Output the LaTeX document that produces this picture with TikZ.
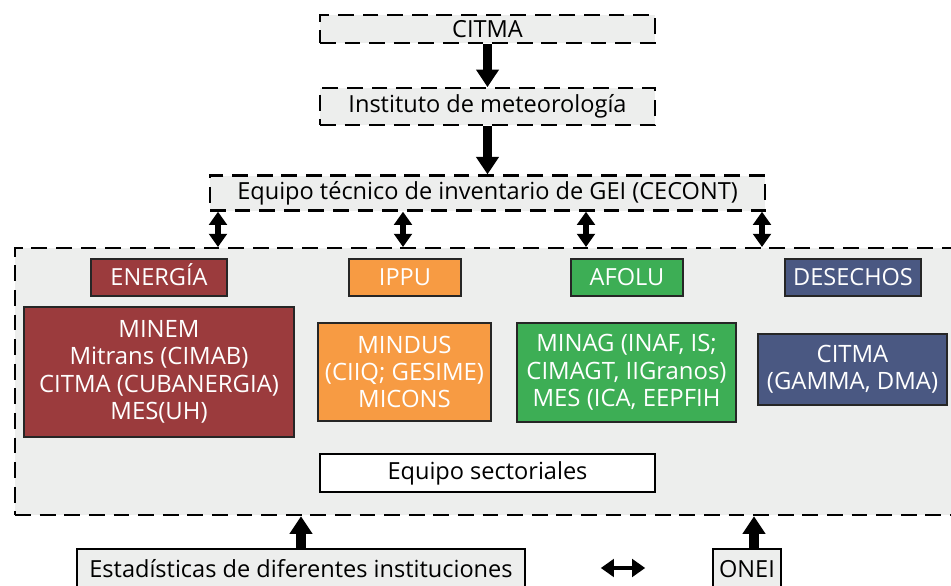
\documentclass[tikz,border=0pt]{standalone}
\usepackage{fontspec}
\setmainfont{Open Sans}
\usetikzlibrary{arrows.meta,positioning}

\definecolor{grisfondo}{RGB}{237,238,237}
\definecolor{rojoen}{RGB}{155,59,61}
\definecolor{naranjaip}{RGB}{247,155,67}
\definecolor{verdeaf}{RGB}{61,174,85}
\definecolor{azulde}{RGB}{74,88,130}

\tikzset{
	dashbox/.style={draw,dashed,dash pattern=on 9pt off 5pt,line width=1.3pt,fill=grisfondo,inner sep=0pt},
	plainbox/.style={draw,line width=0.9pt,fill=grisfondo,inner sep=0pt},
	sectorh/.style={draw=black!85,line width=0.9pt,text=white,inner sep=0pt,minimum height=0.74cm,text height=9.6pt,text depth=0pt},
	sectorc/.style={draw=black!85,line width=0.9pt,text=white,inner sep=0pt,align=center,font=\fontsize{13.6}{15.6}\selectfont},
	flecha/.style={line width=5.5pt,-{Triangle[width=12.5pt,length=10pt]}},
	dobleflecha/.style={line width=3.8pt,{Triangle[width=10pt,length=7.5pt]}-{Triangle[width=10pt,length=7.5pt]}}
}

\begin{document}
\begin{tikzpicture}[font=\fontsize{13.4}{16}\selectfont,node distance=1cm,align=center]
	\useasboundingbox (0,0) rectangle (19.02,11.72);
	\clip (0,0) rectangle (19.02,11.72);
	% cadena superior
	\node[dashbox,minimum width=6.7cm,minimum height=0.56cm] (citma) at (9.75,11.14) {CITMA};
	\node[dashbox,minimum width=6.7cm,minimum height=0.74cm] [below=0.86cm of citma] (inst) {Instituto de meteorología};
	\node[dashbox,minimum width=11.1cm,minimum height=0.7cm] [below=0.96cm of inst] (equipo) {Equipo técnico de inventario de GEI (CECONT)};
	% grupo de sectores
	\node[dashbox,anchor=north west,minimum width=19.3cm,minimum height=5.34cm] (grupo) at (0.28,6.78) {};
	\node[sectorh,fill=rojoen,minimum width=2.72cm] (energia_h) at (3.18,6.17) {ENERGÍA};
	\node[sectorh,fill=naranjaip,minimum width=2.24cm] (ippu_h) at (8.10,6.17) {IPPU};
	\node[sectorh,fill=verdeaf,minimum width=2.24cm] (afolu_h) at (12.54,6.17) {AFOLU};
	\node[sectorh,fill=azulde,minimum width=2.72cm] (desechos_h) at (17.06,6.17) {DESECHOS};
	\node[sectorc,fill=rojoen,minimum width=5.4cm,minimum height=2.6cm] (energia_c) at (3.18,4.28) {MINEM\\Mitrans (CIMAB)\\CITMA (CUBANERGIA)\\MES(UH)};
	\node[sectorc,fill=naranjaip,minimum width=3.46cm,minimum height=1.96cm] (ippu_c) at (8.09,4.28) {MINDUS\\(CIIQ; GESIME)\\MICONS};
	\node[sectorc,fill=verdeaf,minimum width=4.38cm,minimum height=1.98cm] (afolu_c) at (12.53,4.27) {MINAG (INAF, IS;\\CIMAGT, IIGranos)\\MES (ICA, EEPFIH};
	\node[sectorc,fill=azulde,minimum width=3.78cm,minimum height=1.42cm] (desechos_c) at (17.05,4.33) {CITMA\\(GAMMA, DMA)};
	\node[plainbox,fill=white,minimum width=6.7cm,minimum height=0.76cm] (sectoriales) at (9.75,2.26) {Equipo sectoriales};
	% fuentes de datos
	\node[plainbox,minimum width=8.96cm,minimum height=0.8cm] (estad) at (6.02,0.34) {Estadísticas de diferentes instituciones};
	\node[plainbox,minimum width=1.36cm,minimum height=0.8cm] (onei) at (14.94,0.34) {ONEI};
	% flechas
	\coordinate (x_1) at (4.36,0);
	\coordinate (x_2) at (8.06,0);
	\coordinate (x_3) at (11.72,0);
	\coordinate (x_4) at (15.24,0);
	\draw[flecha] (citma) -- (inst);
	\draw[flecha] (inst) -- (equipo);
	\foreach \i in {1,...,4}
		\draw[dobleflecha] (equipo.south -| x_\i) -- (grupo.north -| x_\i);
	\draw[flecha] (estad) -- (estad.north |- grupo.south);
	\draw[flecha] ([xshift=0.14cm]onei.north) -- ([xshift=0.14cm]onei.north |- grupo.south);
	\draw[dobleflecha,line width=2.8pt,shorten <=1.5cm,shorten >=1.34cm] (estad.east |- 0,0.36) -- (onei.west |- 0,0.36);
\end{tikzpicture}
\end{document}
